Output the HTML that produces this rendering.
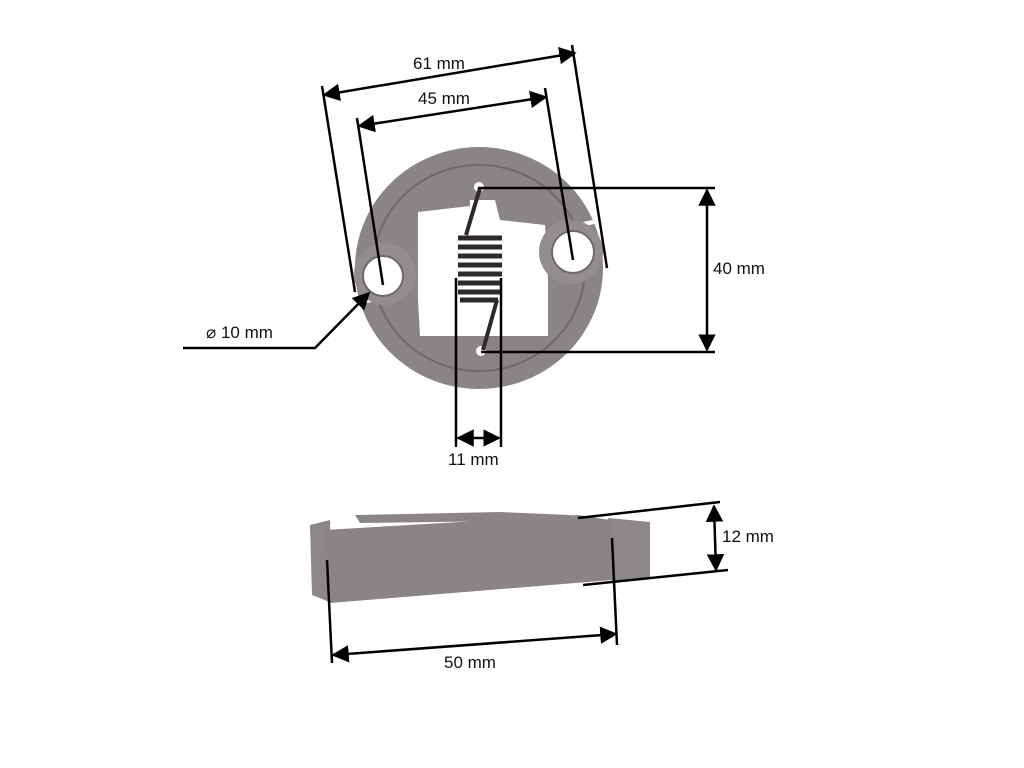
<!DOCTYPE html>
<html><head><style>
body{margin:0;background:#fff;}
svg{display:block}
text{font-family:"Liberation Sans",sans-serif;font-size:17px;fill:#111}
</style></head><body>
<svg width="1024" height="768" viewBox="0 0 1024 768">
<defs>
<marker id="a" viewBox="0 0 10 10" refX="9" refY="5" markerWidth="7" markerHeight="7" orient="auto-start-reverse"><path d="M0,0L10,5L0,10z" fill="#000"/></marker>
</defs>
<ellipse cx="479" cy="268" rx="124" ry="121" fill="#8a8584"/>
<ellipse cx="479" cy="268" rx="106" ry="103" fill="none" stroke="#6e6968" stroke-width="2"/>
<path d="M418 212 L470 206 L470 200 L495 200 L500 220 L545 225 L548 280 L548 336 L420 336 L418 300Z" fill="#fff"/>
<path d="M350 302 L390 294 L392 298 L352 306Z" fill="#fff"/>
<path d="M570 225 L610 216 L612 220 L572 229Z" fill="#fff"/>
<circle cx="385" cy="274" r="31" fill="#938e8d"/>
<circle cx="383" cy="276" r="20" fill="#fff" stroke="#6e6968" stroke-width="2"/>
<circle cx="571" cy="252" r="32" fill="#938e8d"/>
<circle cx="573" cy="252" r="21" fill="#fff" stroke="#6e6968" stroke-width="2"/>
<circle cx="479" cy="187" r="5" fill="#fff"/><circle cx="481" cy="351" r="5" fill="#fff"/>
<g stroke="#2e2a28" stroke-width="4" fill="none">
<path d="M480 188 L466 235"/><path d="M497 300 L483 350"/>
</g>
<g stroke="#2e2a28" stroke-width="5" fill="none">
<path d="M458 238h44M458 247h44M458 256h44M458 265h44M458 274h44M458 283h44M458 292h44M460 300h38"/>
</g>
<path d="M355 515 L500 512 L570 515 L578 520 L360 523Z" fill="#8a8584"/>
<path d="M310 525 L330 520 L332 603 L312 595Z" fill="#8d8887"/>
<path d="M608 518 L650 522 L650 578 L612 583Z" fill="#8d8887"/>
<path d="M325 530 L578 515 L610 520 L612 580 L330 603Z" fill="#8a8584"/>
<g stroke="#000" stroke-width="2.5" fill="none">
<line x1="322" y1="86" x2="355" y2="292"/><line x1="572" y1="45" x2="607" y2="268"/>
<line x1="324" y1="95" x2="575" y2="53" marker-start="url(#a)" marker-end="url(#a)"/>
<line x1="357" y1="118" x2="383" y2="285"/><line x1="545" y1="88" x2="573" y2="260"/>
<line x1="359" y1="126" x2="546" y2="97" marker-start="url(#a)" marker-end="url(#a)"/>
<line x1="478" y1="188" x2="715" y2="188"/><line x1="481" y1="352" x2="715" y2="352"/>
<line x1="707" y1="190" x2="707" y2="350" marker-start="url(#a)" marker-end="url(#a)"/>
<line x1="456" y1="278" x2="456" y2="447"/><line x1="501" y1="278" x2="501" y2="447"/>
<line x1="458" y1="438" x2="499" y2="438" marker-start="url(#a)" marker-end="url(#a)"/>
<polyline points="183,348 315,348 369,293" marker-end="url(#a)"/>
<line x1="578" y1="518" x2="720" y2="502"/><line x1="583" y1="585" x2="728" y2="570"/>
<line x1="714" y1="506" x2="716" y2="570" marker-start="url(#a)" marker-end="url(#a)"/>
<line x1="327" y1="560" x2="332" y2="663"/><line x1="612" y1="538" x2="617" y2="645"/>
<line x1="333" y1="655" x2="616" y2="634" marker-start="url(#a)" marker-end="url(#a)"/>
</g>
<text x="413" y="69">61 mm</text>
<text x="418" y="104">45 mm</text>
<text x="713" y="274">40 mm</text>
<text x="206" y="338">⌀ 10 mm</text>
<text x="448" y="465">11 mm</text>
<text x="722" y="542">12 mm</text>
<text x="444" y="668">50 mm</text>
</svg>
</body></html>
